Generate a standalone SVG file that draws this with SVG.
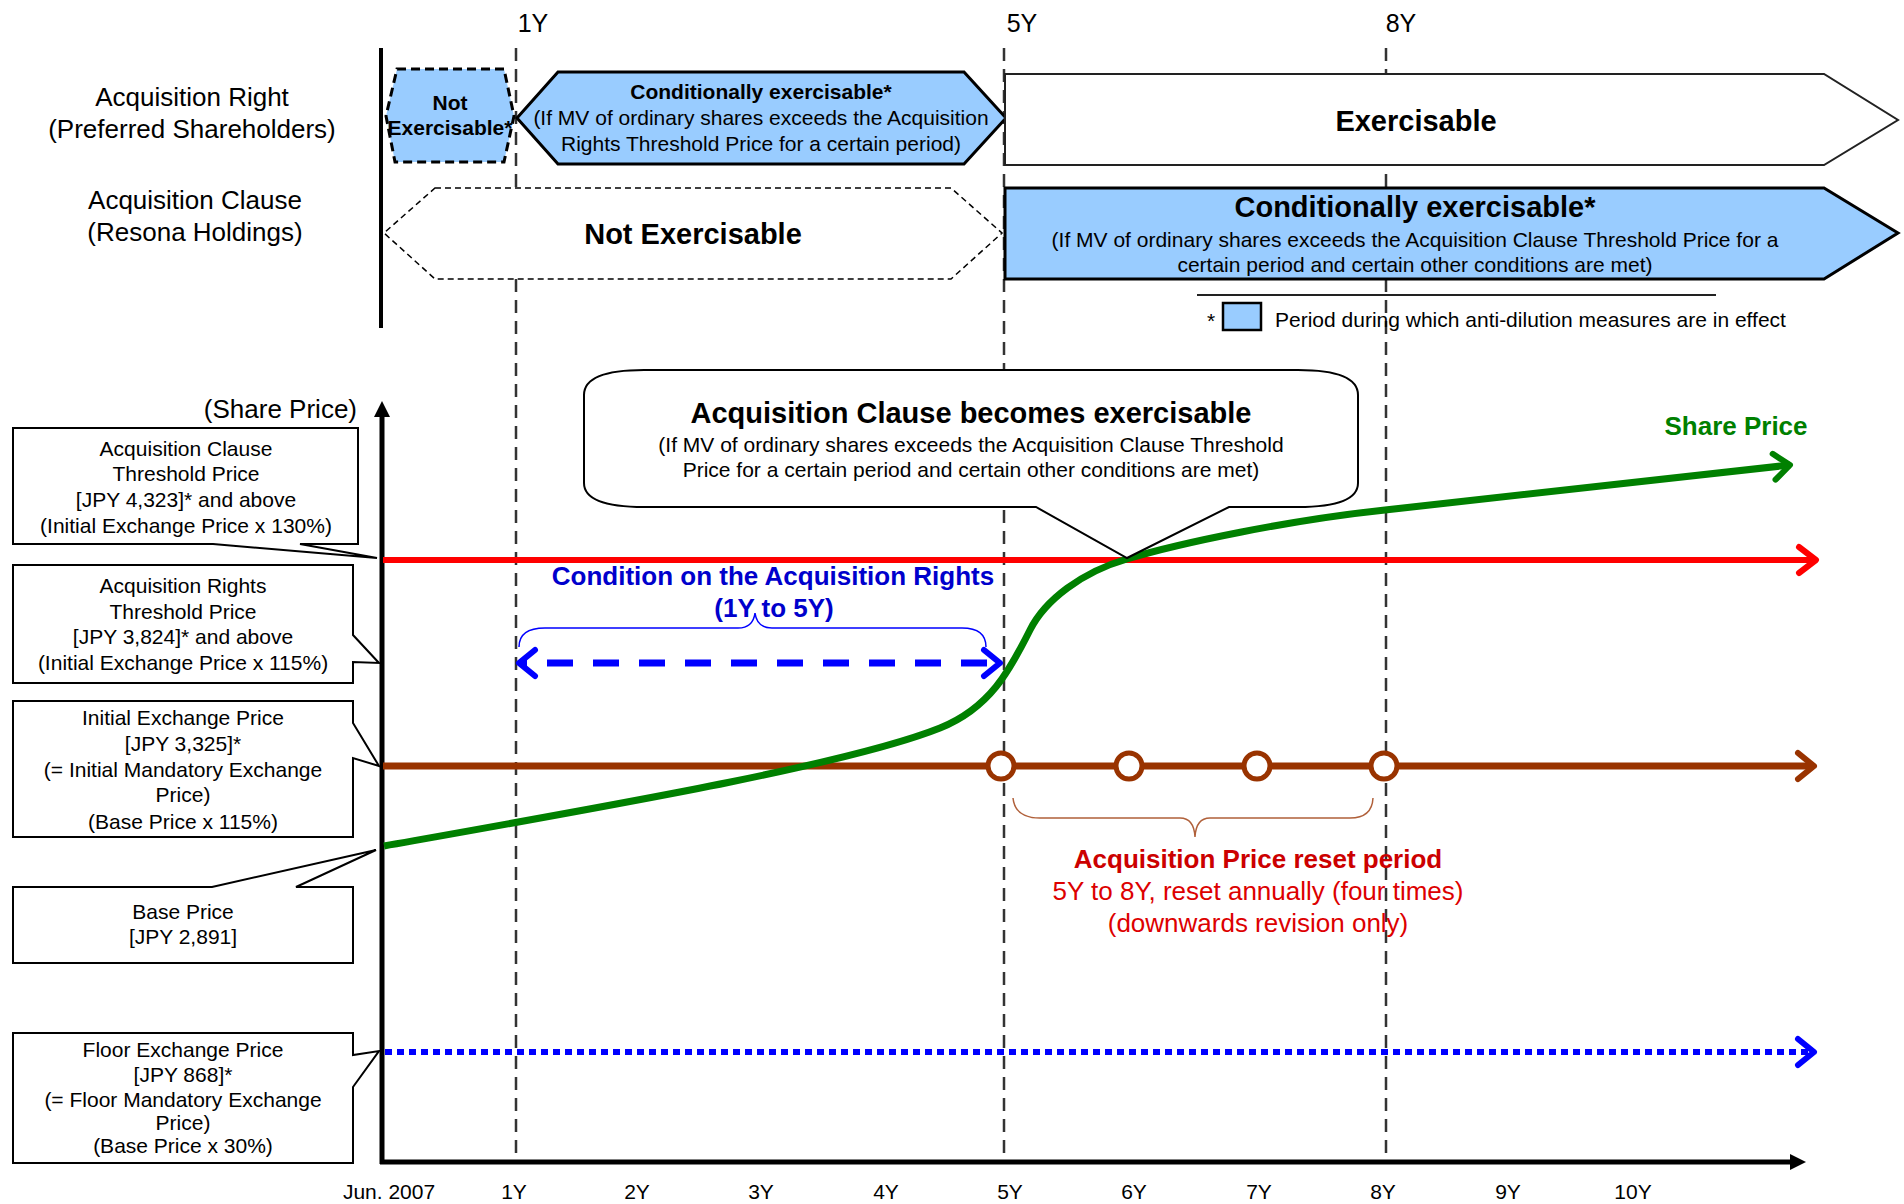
<svg xmlns="http://www.w3.org/2000/svg" width="1904" height="1204" viewBox="0 0 1904 1204">
  <style>
    text { font-family: "Liberation Sans", Arial, sans-serif; fill: #000; }
    .c { text-anchor: middle; }
    .r { text-anchor: end; }
    .b { font-weight: bold; }
    .f21 { font-size: 21px; }
    .f25 { font-size: 25px; }
    .f26 { font-size: 26px; }
    .f29 { font-size: 29px; }
    .grid { stroke: #333; stroke-width: 2.5; stroke-dasharray: 13 8; fill: none; }
    .box { fill: #fff; stroke: #000; stroke-width: 2; }
    .blue { fill: #99CCFF; }
  </style>
  <defs>
    <marker id="chev-red" markerUnits="userSpaceOnUse" viewBox="-26 -18 32 36" refX="0" refY="0" markerWidth="32" markerHeight="36" orient="auto">
      <path d="M-17,-13 L0,0 L-17,13" fill="none" stroke="#FF0000" stroke-width="6" stroke-linecap="round" stroke-linejoin="round"/>
    </marker>
    <marker id="chev-brown" markerUnits="userSpaceOnUse" viewBox="-26 -18 32 36" refX="0" refY="0" markerWidth="32" markerHeight="36" orient="auto">
      <path d="M-16,-13 L0,0 L-16,13" fill="none" stroke="#993300" stroke-width="6" stroke-linecap="round" stroke-linejoin="round"/>
    </marker>
    <marker id="chev-blue" markerUnits="userSpaceOnUse" viewBox="-26 -18 32 36" refX="0" refY="0" markerWidth="32" markerHeight="36" orient="auto-start-reverse">
      <path d="M-16,-13 L0,0 L-16,13" fill="none" stroke="#0000FF" stroke-width="6" stroke-linecap="round" stroke-linejoin="round"/>
    </marker>
    <marker id="chev-green" markerUnits="userSpaceOnUse" viewBox="-26 -18 32 36" refX="0" refY="0" markerWidth="32" markerHeight="36" orient="auto">
      <path d="M-16,-13 L0,0 L-16,13" fill="none" stroke="#008000" stroke-width="6" stroke-linecap="round" stroke-linejoin="round"/>
    </marker>
  </defs>

  <rect width="1904" height="1204" fill="#fff"/>

  <!-- year guide lines -->
  <g id="year-lines">
    <line class="grid" x1="516" y1="48" x2="516" y2="1162"/>
    <line class="grid" x1="1004" y1="48" x2="1004" y2="1162"/>
    <line class="grid" x1="1386" y1="48" x2="1386" y2="1162"/>
    <text class="c f25" x="533" y="32">1Y</text>
    <text class="c f25" x="1022" y="32">5Y</text>
    <text class="c f25" x="1401" y="32">8Y</text>
  </g>

  <!-- row headings -->
  <g id="row-labels">
    <line x1="381" y1="48" x2="381" y2="328" stroke="#000" stroke-width="4"/>
    <text class="c f26" x="192" y="106">Acquisition Right</text>
    <text class="c f26" x="192" y="138">(Preferred Shareholders)</text>
    <text class="c f26" x="195" y="209">Acquisition Clause</text>
    <text class="c f26" x="195" y="241">(Resona Holdings)</text>
  </g>

  <!-- acquisition right row -->
  <g id="right-not-exercisable">
    <polygon class="blue" points="397,69 504,69 514,116 504,162 395,162 386,116" stroke="#000" stroke-width="3" stroke-dasharray="9 5"/>
    <text class="c b f21" x="450" y="110">Not</text>
    <text class="c b f21" x="450" y="135">Exercisable*</text>
  </g>
  <g id="right-conditional">
    <polygon class="blue" points="558,72 964,72 1006,118 964,164 558,164 517,118" stroke="#000" stroke-width="3"/>
    <text class="c b f21" x="761" y="99">Conditionally exercisable*</text>
    <text class="c f21" x="761" y="125">(If MV of ordinary shares exceeds the Acquisition</text>
    <text class="c f21" x="761" y="151">Rights Threshold Price for a certain period)</text>
  </g>
  <g id="right-exercisable">
    <polygon points="1005,74 1824,74 1898,120 1824,165 1005,165" fill="#fff" stroke="#222" stroke-width="2"/>
    <text class="c b f29" x="1416" y="131">Exercisable</text>
  </g>

  <!-- acquisition clause row -->
  <g id="clause-not-exercisable">
    <polygon points="435,188 951,188 1002,233 951,279 435,279 384,233" fill="#fff" stroke="#000" stroke-width="1.5" stroke-dasharray="6 4"/>
    <text class="c b f29" x="693" y="244">Not Exercisable</text>
  </g>
  <g id="clause-conditional">
    <polygon class="blue" points="1005,188 1824,188 1898,233 1824,279 1005,279" stroke="#000" stroke-width="3"/>
    <text class="c b f29" x="1415" y="217">Conditionally exercisable*</text>
    <text class="c f21" x="1415" y="247">(If MV of ordinary shares exceeds the Acquisition Clause Threshold Price for a</text>
    <text class="c f21" x="1415" y="272">certain period and certain other conditions are met)</text>
  </g>

  <!-- legend -->
  <g id="legend">
    <line x1="1197" y1="295" x2="1716" y2="295" stroke="#222" stroke-width="2"/>
    <text class="c f21" x="1211" y="328">*</text>
    <rect class="blue" x="1223" y="303" width="38" height="27" stroke="#000" stroke-width="2.5"/>
    <text class="f21" x="1275" y="327">Period during which anti-dilution measures are in effect</text>
  </g>

  <!-- chart axes -->
  <g id="axes">
    <line x1="382" y1="414" x2="382" y2="1164" stroke="#000" stroke-width="5"/>
    <polygon points="382,401 390,417 374,417" fill="#000"/>
    <line x1="380" y1="1162" x2="1792" y2="1162" stroke="#000" stroke-width="5"/>
    <polygon points="1806,1162 1790,1154 1790,1170" fill="#000"/>
    <text class="r f26" x="357" y="418">(Share Price)</text>
    <g class="f21">
      <text class="c" x="389" y="1199">Jun. 2007</text>
      <text class="c" x="514" y="1199">1Y</text>
      <text class="c" x="637" y="1199">2Y</text>
      <text class="c" x="761" y="1199">3Y</text>
      <text class="c" x="886" y="1199">4Y</text>
      <text class="c" x="1010" y="1199">5Y</text>
      <text class="c" x="1134" y="1199">6Y</text>
      <text class="c" x="1259" y="1199">7Y</text>
      <text class="c" x="1383" y="1199">8Y</text>
      <text class="c" x="1508" y="1199">9Y</text>
      <text class="c" x="1633" y="1199">10Y</text>
    </g>
  </g>

  <!-- price lines -->
  <g id="connectors">
    <line x1="383" y1="560" x2="1816" y2="560" stroke="#FF0000" stroke-width="6" marker-end="url(#chev-red)"/>
    <line x1="383" y1="766" x2="1814" y2="766" stroke="#993300" stroke-width="7" marker-end="url(#chev-brown)"/>
    <line x1="385" y1="1052" x2="1814" y2="1052" stroke="#0000FF" stroke-width="6" stroke-dasharray="7 5" marker-end="url(#chev-blue)"/>
    <line x1="519" y1="663" x2="1000" y2="663" stroke="#0000FF" stroke-width="7" stroke-dasharray="26 20" stroke-dashoffset="-28" marker-start="url(#chev-blue)" marker-end="url(#chev-blue)"/>
    <path d="M384,846 C620,804 850,764 940,728 C990,708 1010,670 1030,630 C1045,600 1082,572 1127,559 C1180,543 1290,520 1385,510 L1790,465" fill="none" stroke="#008000" stroke-width="7" marker-end="url(#chev-green)"/>
    <g fill="#fff" stroke="#993300" stroke-width="5">
      <circle cx="1001" cy="766" r="13"/>
      <circle cx="1129" cy="766" r="13"/>
      <circle cx="1257" cy="766" r="13"/>
      <circle cx="1384" cy="766" r="13"/>
    </g>
  </g>

  <!-- 1Y to 5Y condition -->
  <g id="rights-condition">
    <path d="M519,647 Q519,628 545,628 L738,628 Q753,628 755,613 Q757,628 772,628 L962,628 Q986,628 986,647" fill="none" stroke="#0000FF" stroke-width="1.5"/>
    <text class="c b f26" x="773" y="585" style="fill:#0000CC">Condition on the Acquisition Rights</text>
    <text class="c b f26" x="774" y="617" style="fill:#0000CC">(1Y to 5Y)</text>
  </g>

  <!-- reset period -->
  <g id="reset-period">
    <path d="M1013,798 Q1015,818 1040,818 L1180,818 Q1194,818 1195,837 Q1196,818 1210,818 L1350,818 Q1372,818 1373,798" fill="none" stroke="#B0603A" stroke-width="1.5"/>
    <text class="c b f26" x="1258" y="868" style="fill:#CC0000">Acquisition Price reset period</text>
    <text class="c f26" x="1258" y="900" style="fill:#DD0000">5Y to 8Y, reset annually (four times)</text>
    <text class="c f26" x="1258" y="932" style="fill:#DD0000">(downwards revision only)</text>
  </g>

  <text class="c b f26" x="1736" y="435" style="fill:#008000">Share Price</text>

  <!-- acquisition clause callout bubble -->
  <g id="clause-bubble">
    <path d="M644,370 L1298,370 Q1358,370 1358,395 L1358,483 Q1358,507 1298,507 L1229,507 L1127,558 L1036,507 L644,507 Q584,507 584,483 L584,395 Q584,370 644,370 Z" fill="#fff" stroke="#000" stroke-width="2"/>
    <text class="c b f29" x="971" y="423">Acquisition Clause becomes exercisable</text>
    <text class="c f21" x="971" y="452">(If MV of ordinary shares exceeds the Acquisition Clause Threshold</text>
    <text class="c f21" x="971" y="477">Price for a certain period and certain other conditions are met)</text>
  </g>

  <!-- level callouts -->
  <g id="callout-clause-threshold">
    <polygon class="box" points="13,428 358,428 358,544 300,544 377,558 213,544 13,544"/>
    <g class="c f21">
      <text x="186" y="456">Acquisition Clause</text>
      <text x="186" y="481">Threshold Price</text>
      <text x="186" y="507">[JPY 4,323]* and above</text>
      <text x="186" y="533">(Initial Exchange Price x 130%)</text>
    </g>
  </g>
  <g id="callout-rights-threshold">
    <polygon class="box" points="13,565 353,565 353,635 379,663 353,662 353,683 13,683"/>
    <g class="c f21">
      <text x="183" y="593">Acquisition Rights</text>
      <text x="183" y="619">Threshold Price</text>
      <text x="183" y="644">[JPY 3,824]* and above</text>
      <text x="183" y="670">(Initial Exchange Price x 115%)</text>
    </g>
  </g>
  <g id="callout-initial-price">
    <polygon class="box" points="13,701 353,701 353,723 379,766 353,758 353,837 13,837"/>
    <g class="c f21">
      <text x="183" y="725">Initial Exchange Price</text>
      <text x="183" y="751">[JPY 3,325]*</text>
      <text x="183" y="777">(= Initial Mandatory Exchange</text>
      <text x="183" y="802">Price)</text>
      <text x="183" y="829">(Base Price x 115%)</text>
    </g>
  </g>
  <g id="callout-base-price">
    <polygon class="box" points="13,887 212,887 376,850 296,887 353,887 353,963 13,963"/>
    <g class="c f21">
      <text x="183" y="919">Base Price</text>
      <text x="183" y="944">[JPY 2,891]</text>
    </g>
  </g>
  <g id="callout-floor-price">
    <polygon class="box" points="13,1033 353,1033 353,1055 379,1051 353,1087 353,1163 13,1163"/>
    <g class="c f21">
      <text x="183" y="1057">Floor Exchange Price</text>
      <text x="183" y="1082">[JPY 868]*</text>
      <text x="183" y="1107">(= Floor Mandatory Exchange</text>
      <text x="183" y="1130">Price)</text>
      <text x="183" y="1153">(Base Price x 30%)</text>
    </g>
  </g>
</svg>
